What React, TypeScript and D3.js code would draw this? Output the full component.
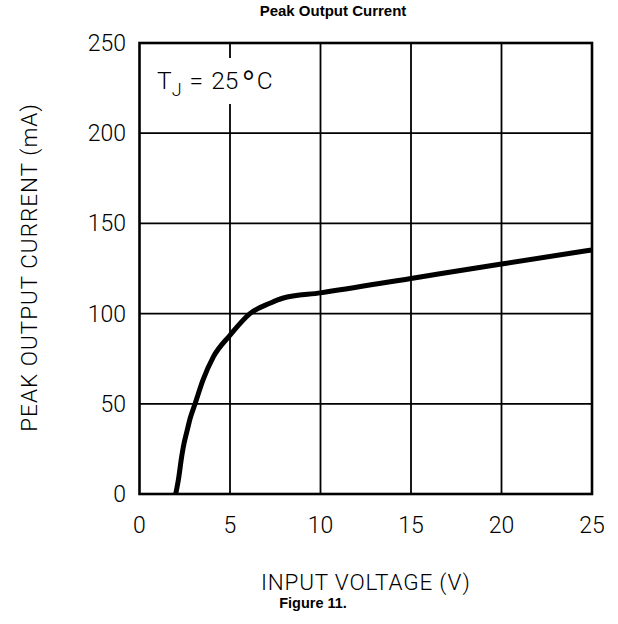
import React from "react";
import * as d3 from "d3";

const xTicks = [0, 5, 10, 15, 20, 25];
const yTicks = [0, 50, 100, 150, 200, 250];
const inputVoltage = [2.0, 2.15, 2.33, 2.42, 2.64, 2.8, 3.07, 3.5, 4.08, 5.0, 6.1, 7.2, 7.9, 10, 15, 20, 25];
const peakCurrent = [0, 8, 20.7, 26, 35.5, 42, 50, 63, 76, 88, 100, 105.7, 108.5, 111.5, 119.5, 127.5, 135.3];

const chartTitle = "Peak Output Current";
const xLabel = "INPUT VOLTAGE (V)";
const yLabel = "PEAK OUTPUT CURRENT (mA)";
const caption = "Figure 11.";

const W = 618;
const H = 624;
const L = 139.5, R = 592, T = 43, B = 494;
const thinFont = "Roboto, 'DejaVu Sans', sans-serif";

export default function App() {
  const x = d3.scaleLinear().domain([0, 25]).range([L, R]);
  const y = d3.scaleLinear().domain([0, 250]).range([B, T]);
  const pts: [number, number][] = inputVoltage.map((v, i) => [v, peakCurrent[i]]);
  const line = d3
    .line<[number, number]>()
    .x((d) => x(d[0]))
    .y((d) => y(d[1]))
    .curve(d3.curveMonotoneX);

  return (
    <svg
      width={W}
      height={H}
      viewBox={`0 0 ${W} ${H}`}
      style={{ position: "absolute", left: 0, top: 0, background: "#fff" }}
    >
      <rect x={0} y={0} width={W} height={H} fill="#fff" />
      <text
        x={333}
        y={16}
        textAnchor="middle"
        fontFamily="Arial, Liberation Sans, sans-serif"
        fontWeight="bold"
        fontSize={15}
        fill="#000"
      >
        {chartTitle}
      </text>
      {xTicks.slice(1, -1).map((t) => (
        <line key={"gx" + t} x1={x(t)} x2={x(t)} y1={T} y2={B} stroke="#000" strokeWidth={1.8} />
      ))}
      {yTicks.slice(1, -1).map((t) => (
        <line key={"gy" + t} x1={L} x2={R} y1={y(t)} y2={y(t)} stroke="#000" strokeWidth={1.8} />
      ))}
      <rect x={150} y={58} width={132} height={46} fill="#fff" />
      <text x={157} y={88.5} fontFamily={thinFont} fontWeight={300} fontSize={24.5} fill="#000">
        T
        <tspan fontSize={18} dx={0} dy={7}>J</tspan>
        <tspan fontSize={24.5} dy={-7} dx={8}>=</tspan>
        <tspan dx={8}>25</tspan>
        <tspan fontSize={38} dx={3} dy={10}>°</tspan>
        <tspan fontSize={24.5} dx={1} dy={-10}>C</tspan>
      </text>
      <rect x={L} y={T} width={R - L} height={B - T} fill="none" stroke="#000" strokeWidth={2.6} />
      <path d={line(pts) || ""} fill="none" stroke="#000" strokeWidth={5} strokeLinejoin="round" strokeLinecap="butt" />
      {yTicks.map((t) => (
        <text
          key={"ty" + t}
          x={126}
          y={y(t) + 8}
          textAnchor="end"
          fontFamily={thinFont}
          fontWeight={300}
          fontSize={23}
          fill="#000"
        >
          {t}
        </text>
      ))}
      {xTicks.map((t) => (
        <text
          key={"tx" + t}
          x={x(t)}
          y={533}
          textAnchor="middle"
          fontFamily={thinFont}
          fontWeight={300}
          fontSize={23}
          fill="#000"
        >
          {t}
        </text>
      ))}
      <text
        transform={`translate(36.5, ${(T + B) / 2 - 1}) rotate(-90)`}
        textAnchor="middle"
        fontFamily={thinFont}
        fontWeight={300}
        fontSize={22.5}
        letterSpacing={1}
        fill="#000"
      >
        {yLabel}
      </text>
      <text
        x={(L + R) / 2}
        y={590}
        textAnchor="middle"
        fontFamily={thinFont}
        fontWeight={300}
        fontSize={22.5}
        letterSpacing={0.8}
        fill="#000"
      >
        {xLabel}
      </text>
      <text
        x={313}
        y={608}
        textAnchor="middle"
        fontFamily="Arial, Liberation Sans, sans-serif"
        fontWeight="bold"
        fontSize={14.5}
        fill="#000"
      >
        {caption}
      </text>
    </svg>
  );
}
